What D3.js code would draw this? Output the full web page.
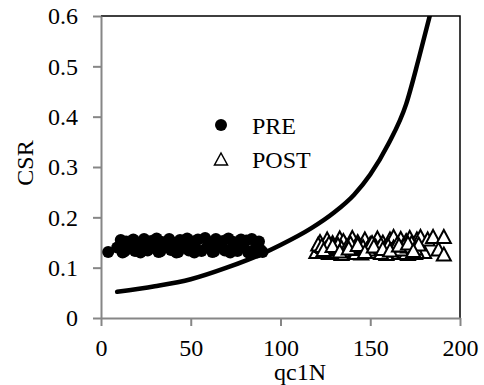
<!DOCTYPE html>
<html>
<head>
<meta charset="utf-8">
<script src="https://cdn.jsdelivr.net/npm/d3@7"></script>
<style>
  body { margin: 0; background: #fff; }
  text { font-family: "Liberation Serif", "Times New Roman", serif; }
</style>
</head>
<body>
<div id="chart"></div>
<script>
// qc1N / CSR values
const preQc  = [4, 9, 11, 13, 14, 16, 18, 19, 21, 23, 24, 26, 28, 29, 31, 33, 34, 36, 38, 39,
                41, 43, 44, 46, 48, 49, 51, 53, 54, 56, 58, 59, 61, 63, 64, 66, 68, 69, 71, 73,
                74, 76, 78, 79, 81, 83, 84, 86, 88, 89, 90, 12, 22, 32, 42, 52, 62, 72, 82, 87];
const preCsr = [0.131, 0.14, 0.155, 0.132, 0.152, 0.138, 0.156, 0.133, 0.15, 0.145, 0.157, 0.134, 0.153, 0.14, 0.158, 0.132, 0.151, 0.144, 0.157, 0.135,
                0.149, 0.131, 0.155, 0.142, 0.158, 0.134, 0.152, 0.137, 0.156, 0.133, 0.159, 0.141, 0.15, 0.132, 0.157, 0.146, 0.153, 0.134, 0.158, 0.139,
                0.151, 0.133, 0.156, 0.143, 0.154, 0.132, 0.157, 0.138, 0.152, 0.135, 0.131, 0.13, 0.13, 0.131, 0.13, 0.13, 0.131, 0.13, 0.13, 0.13];

const postQc  = [120, 122, 124, 126, 127, 129, 131, 133, 134, 136, 138, 140, 141, 143, 145, 147, 148, 150, 152, 154,
                 155, 157, 159, 161, 162, 164, 166, 167, 168, 169, 170, 171, 172, 173, 174, 175, 176, 177, 178, 180,
                 182, 185, 188, 191, 191, 121, 128, 135, 142, 149, 156, 163, 170, 176,
                 123, 125, 127, 130, 132, 134, 137, 139, 142, 144, 146, 149, 151, 153, 156, 158, 160, 163, 165, 167,
                 169, 171, 173, 175, 177, 124, 129, 133, 138, 143, 147, 152, 157, 161, 166, 171, 174];
const postCsr = [0.13, 0.15, 0.14, 0.155, 0.128, 0.148, 0.135, 0.157, 0.126, 0.145, 0.132, 0.158, 0.137, 0.15, 0.127, 0.155, 0.134, 0.146, 0.13, 0.157,
                 0.138, 0.149, 0.126, 0.155, 0.133, 0.147, 0.128, 0.156, 0.14, 0.13, 0.152, 0.126, 0.158, 0.135, 0.145, 0.128, 0.155, 0.138, 0.16, 0.13,
                 0.155, 0.16, 0.135, 0.16, 0.125, 0.145, 0.13, 0.152, 0.128, 0.14, 0.128, 0.16, 0.128, 0.13,
                 0.142, 0.136, 0.147, 0.139, 0.144, 0.138, 0.141, 0.147, 0.136, 0.143, 0.14, 0.135, 0.148, 0.141, 0.144, 0.137, 0.142, 0.139, 0.146, 0.135,
                 0.143, 0.141, 0.148, 0.137, 0.145, 0.134, 0.142, 0.131, 0.137, 0.144, 0.13, 0.141, 0.136, 0.133, 0.143, 0.147, 0.132];

// boundary curve
const curveQc  = [9, 30, 50, 70, 90, 100, 117, 130, 141, 150, 160, 170, 177, 184];
const curveCsr = [0.052, 0.063, 0.077, 0.1, 0.128, 0.145, 0.178, 0.21, 0.245, 0.285, 0.345, 0.425, 0.515, 0.612];

const xTicks = [0, 50, 100, 150, 200];
const yTicks = [0, 0.1, 0.2, 0.3, 0.4, 0.5, 0.6];

const W = 484, H = 385;
const margin = { top: 16, right: 24, bottom: 67, left: 101 };
const width = W - margin.left - margin.right;
const height = H - margin.top - margin.bottom;

const svg = d3.select('#chart').append('svg')
  .attr('width', W)
  .attr('height', H);

const g = svg.append('g')
  .attr('transform', `translate(${margin.left},${margin.top})`);

const x = d3.scaleLinear().domain([0, 200]).range([0, width]);
const y = d3.scaleLinear().domain([0, 0.6]).range([height, 0]);

g.append('clipPath').attr('id', 'clip')
  .append('rect').attr('width', width).attr('height', height);

// plot border (top and right in black)
g.append('path')
  .attr('d', `M0,0H${width}V${height}`)
  .attr('fill', 'none')
  .attr('stroke', '#000')
  .attr('stroke-width', 1.5);

// axes
const xAxis = g.append('g')
  .attr('transform', `translate(0,${height})`)
  .call(d3.axisBottom(x).tickValues(xTicks).tickSize(8).tickPadding(13).tickSizeOuter(0));

const yAxis = g.append('g')
  .call(d3.axisLeft(y).tickValues(yTicks).tickSize(8).tickPadding(15).tickSizeOuter(0)
    .tickFormat(d => d === 0 ? '0' : d3.format('.1f')(d)));

[xAxis, yAxis].forEach(a => {
  a.select('.domain').attr('stroke', '#868686').attr('stroke-width', 2);
  a.selectAll('.tick line').attr('stroke', '#868686').attr('stroke-width', 2);
  a.selectAll('.tick text')
    .attr('fill', '#000')
    .style('font-family', '"Liberation Serif", serif')
    .style('font-size', '24px');
});

// curve
const line = d3.line()
  .x(d => x(d[0]))
  .y(d => y(d[1]))
  .curve(d3.curveMonotoneX);

g.append('path')
  .datum(curveQc.map((q, i) => [q, curveCsr[i]]))
  .attr('clip-path', 'url(#clip)')
  .attr('d', line)
  .attr('fill', 'none')
  .attr('stroke', '#000')
  .attr('stroke-width', 4.5)
  .attr('stroke-linecap', 'round');

// PRE points
g.selectAll('.pre')
  .data(preQc.map((q, i) => [q, preCsr[i]]))
  .enter().append('circle')
  .attr('class', 'pre')
  .attr('cx', d => x(d[0]))
  .attr('cy', d => y(d[1]))
  .attr('r', 6)
  .attr('fill', '#000');

// POST points
const tri = 'M0,-7.5L7,5.5L-7,5.5Z';
g.selectAll('.post')
  .data(postQc.map((q, i) => [q, postCsr[i]]))
  .enter().append('path')
  .attr('class', 'post')
  .attr('transform', d => `translate(${x(d[0])},${y(d[1])})`)
  .attr('d', tri)
  .attr('fill', '#fff')
  .attr('stroke', '#000')
  .attr('stroke-width', 2);

// legend
const legend = svg.append('g');
legend.append('circle').attr('cx', 221).attr('cy', 125).attr('r', 6).attr('fill', '#000');
legend.append('text').attr('x', 252).attr('y', 134).style('font-size', '24px').text('PRE');
legend.append('path').attr('transform', 'translate(221,160)').attr('d', 'M0,-7L6.5,5L-6.5,5Z')
  .attr('fill', '#fff').attr('stroke', '#000').attr('stroke-width', 1.5);
legend.append('text').attr('x', 252).attr('y', 168).style('font-size', '24px').text('POST');

// axis titles
svg.append('text')
  .attr('transform', 'translate(33,163) rotate(-90)')
  .attr('text-anchor', 'middle')
  .style('font-size', '24px')
  .text('CSR');

svg.append('text')
  .attr('x', 300)
  .attr('y', 380)
  .attr('text-anchor', 'middle')
  .style('font-size', '24px')
  .text('qc1N');
</script>
</body>
</html>
